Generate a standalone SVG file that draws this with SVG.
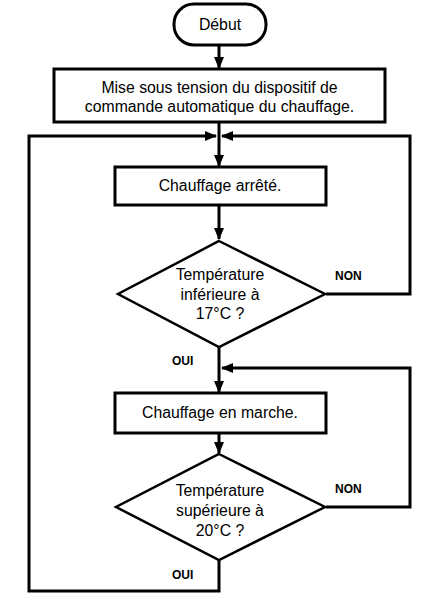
<svg xmlns="http://www.w3.org/2000/svg" width="430" height="611" viewBox="0 0 430 611">
<style>
.box{fill:#fff;stroke:#000;stroke-width:3}
.dia{fill:#fff;stroke:#000;stroke-width:2.5}
.ln{fill:none;stroke:#000;stroke-width:3}
.t{font-family:"Liberation Sans",Arial,sans-serif;font-size:15.8px;fill:#000;text-anchor:middle}
.lb{font-family:"Liberation Sans",Arial,sans-serif;font-size:12px;font-weight:bold;fill:#000}
</style>
<defs>
<marker id="ah" markerWidth="12" markerHeight="10" refX="11" refY="5" orient="auto" markerUnits="userSpaceOnUse">
<path d="M0,0 L12,5 L0,10 Z" fill="#000"/>
</marker>
</defs>
<rect width="430" height="611" fill="#fff"/>
<g id="connectors">
<line class="ln" x1="219" y1="45" x2="219" y2="68" marker-end="url(#ah)"/>
<line class="ln" x1="219" y1="122" x2="219" y2="166" marker-end="url(#ah)"/>
<line class="ln" x1="219" y1="205" x2="219" y2="239" marker-end="url(#ah)"/>
<polyline class="ln" points="326,294 410,294 410,136 222,136" marker-end="url(#ah)"/>
<line class="ln" x1="219" y1="347" x2="219" y2="392" marker-end="url(#ah)"/>
<polyline class="ln" points="326,507 410,507 410,368 222,368" marker-end="url(#ah)"/>
<line class="ln" x1="219" y1="433" x2="219" y2="453" marker-end="url(#ah)"/>
<polyline class="ln" points="219,560 219,591 29,591 29,136 216,136" marker-end="url(#ah)"/>
</g>
<g id="debut">
<rect class="box" x="174" y="4" width="92" height="41" rx="20" ry="20"/>
<text class="t" x="220" y="30">Début</text>
</g>
<g id="mise">
<rect class="box" x="54" y="69" width="331" height="53"/>
<text class="t" x="219.5" y="93">Mise sous tension du dispositif de</text>
<text class="t" x="219.5" y="112">commande automatique du chauffage.</text>
</g>
<g id="arrete">
<rect class="box" x="115" y="167" width="211" height="38"/>
<text class="t" x="220" y="191">Chauffage arrêté.</text>
</g>
<g id="test17">
<polygon class="dia" points="219,241 325,294 219,347 118,294"/>
<text class="t" x="220" y="280">Température</text>
<text class="t" x="220" y="300">inférieure à</text>
<text class="t" x="220" y="319">17°C ?</text>
<text class="lb" x="335" y="280">NON</text>
<text class="lb" x="172" y="365">OUI</text>
</g>
<g id="marche">
<rect class="box" x="115" y="393" width="211" height="40"/>
<text class="t" x="220" y="418">Chauffage en marche.</text>
</g>
<g id="test20">
<polygon class="dia" points="219,454 325,507 219,560 116,507"/>
<text class="t" x="220" y="496">Température</text>
<text class="t" x="220" y="516">supérieure à</text>
<text class="t" x="220" y="536">20°C ?</text>
<text class="lb" x="335" y="493">NON</text>
<text class="lb" x="172" y="579">OUI</text>
</g>
</svg>
